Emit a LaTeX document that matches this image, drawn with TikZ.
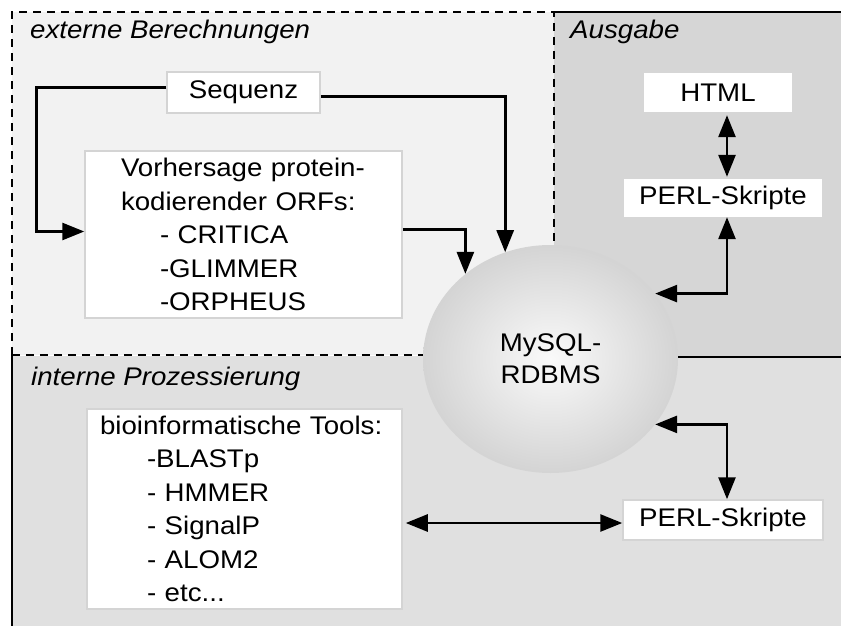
\documentclass[tikz,border=0pt]{standalone}
\usepackage{fontspec}
\setmainfont{Liberation Sans}[FakeStretch=1.085]
\usetikzlibrary{arrows.meta,shapes.geometric}
\definecolor{extfill}{gray}{0.95}
\definecolor{ausfill}{gray}{0.84}
\definecolor{intfill}{gray}{0.88}
\begin{document}
\begin{tikzpicture}[x=1pt,y=-1pt,
  font=\fontsize{25.5}{33.5}\selectfont,
  box/.style={draw=black!17, line width=1.5pt, fill=white, inner sep=0pt},
  plainbox/.style={fill=white, inner sep=0pt},
  conn/.style={line width=2.7pt, -{Triangle[length=22pt,width=17pt]}},
  dconn/.style={line width=2.7pt, {Triangle[length=22pt,width=17pt]}-{Triangle[length=22pt,width=17pt]}},
  dsh/.style={line width=2.7pt, dash pattern=on 8pt off 6pt},
  sld/.style={line width=2.7pt},
  lbl/.style={font=\fontsize{25.5}{30}\selectfont\itshape, anchor=base west, inner sep=0pt}]
\useasboundingbox (0,0) rectangle (841,626);
% regions
\fill[extfill] (12,12) rectangle (554,355);
\fill[ausfill] (554,12) rectangle (841,356);
\fill[intfill] (12,356) rectangle (841,626);
\draw[dsh] (12,355) -- (12,12) -- (554,12) -- (554,355);
\draw[dsh] (12,355) -- (554,355);
\draw[sld] (554,12) -- (841,12);
\draw[sld] (12,355) -- (12,626);
\draw[sld] (554,357) -- (841,357);
% labels
\node[lbl] (lext) at (30,39) {externe Berechnungen};
\node[lbl] (laus) at (570,39) {Ausgabe};
\node[lbl] (lint) at (31,385) {interne Prozessierung};
% database
\node[ellipse, minimum width=255pt, minimum height=228pt, inner sep=0pt,
      inner color=black!2, outer color=black!17, align=center,
      font=\fontsize{25.5}{32}\selectfont] (db) at (550.5,359) {MySQL-\\RDBMS};
% boxes
\node[box, minimum width=153pt, minimum height=41pt] (seq) at (243.5,92.5) {Sequenz};
\node[box, minimum width=317pt, minimum height=167pt, text width=245pt, align=left] (vorh) at (243.5,234.5)
  {Vorhersage protein-\\kodierender ORFs:\\\hspace*{39pt}- CRITICA\\\hspace*{39pt}-GLIMMER\\\hspace*{39pt}-ORPHEUS};
\node[box, minimum width=315pt, minimum height=200pt, text width=289pt, align=left] (tools) at (244.5,509)
  {bioinformatische Tools:\\\hspace*{47pt}-BLASTp\\\hspace*{47pt}- HMMER\\\hspace*{47pt}- SignalP\\\hspace*{47pt}- ALOM2\\\hspace*{47pt}- etc...};
\node[plainbox, minimum width=148pt, minimum height=39pt] (html) at (718,92.5) {HTML};
\node[plainbox, minimum width=198pt, minimum height=38pt] (perl1) at (723,198) {PERL-Skripte};
\node[box, minimum width=200pt, minimum height=40pt] (perl2) at (723,520) {PERL-Skripte};
% connectors
\draw[conn] ([yshift=5pt]seq.west) -- ++(-130,0) |- ([yshift=3pt]vorh.west);
\draw[conn] ([yshift=-4pt]seq.east) -| (db.113);
\draw[conn] ([yshift=5pt]vorh.east) -| (db.135);
\draw[dconn] ([xshift=9pt,yshift=-3pt]html.south) -- ([xshift=9pt,yshift=2pt]html.south |- perl1.north);
\draw[dconn] (db.32) -| ([xshift=4pt]perl1.south);
\draw[dconn] (db.-32) -| ([xshift=4pt]perl2.north);
\path ([yshift=-3pt]perl2.west) coordinate (p2w);
\draw[dconn] ([xshift=3pt]p2w -| tools.east) -- (p2w);
\end{tikzpicture}
\end{document}
